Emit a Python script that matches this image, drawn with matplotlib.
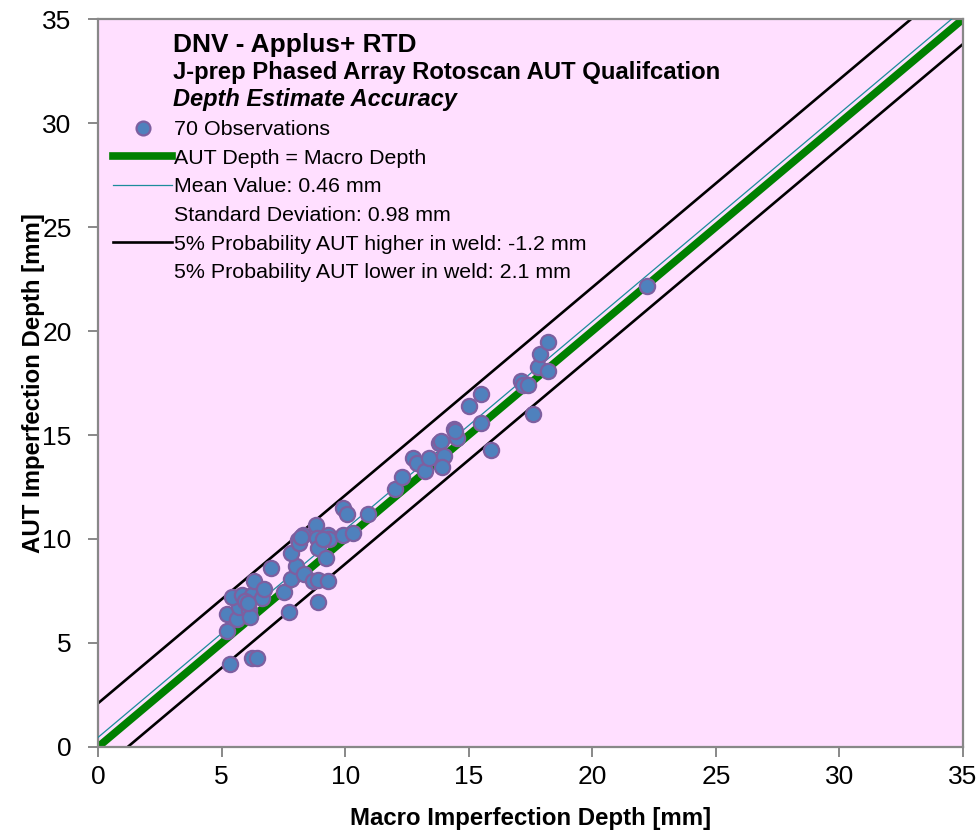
import matplotlib.pyplot as plt
from matplotlib.lines import Line2D

plt.rcParams['font.family'] = ['Liberation Sans', 'DejaVu Sans']

# observations: macro depth vs AUT depth [mm]
macro = [5.34, 6.23, 6.43, 5.22, 5.22, 5.63, 5.71, 6.11, 6.15, 5.42,
         5.83, 6.23, 6.64, 6.31, 6.72, 7.00, 7.53, 7.73, 7.81, 8.01,
         8.34, 8.70, 8.90, 9.31, 8.90, 7.81, 8.09, 8.13, 8.30, 8.82,
         8.86, 8.90, 9.23, 9.31, 9.35, 9.12, 9.91, 10.08, 9.91, 10.32,
         10.93, 12.02, 12.30, 12.75, 12.91, 13.23, 13.40, 13.80, 13.86, 14.00,
         13.92, 14.41, 14.53, 15.01, 15.50, 15.50, 15.90, 17.12, 17.20, 17.40,
         17.60, 17.81, 18.21, 17.89, 18.21, 22.22, 5.95, 6.05, 8.20, 14.45]
aut = [3.99, 4.28, 4.28, 5.58, 6.39, 6.15, 6.73, 6.59, 6.25, 7.21,
       7.31, 7.31, 7.16, 7.98, 7.60, 8.61, 7.45, 6.49, 8.08, 8.70,
       8.32, 7.98, 8.03, 7.98, 6.97, 9.33, 9.95, 9.81, 10.19, 10.67,
       10.05, 9.57, 9.09, 10.19, 10.00, 10.00, 11.49, 11.20, 10.19, 10.29,
       11.20, 12.40, 12.98, 13.89, 13.65, 13.27, 13.89, 14.62, 14.72, 13.99,
       13.46, 15.29, 14.86, 16.39, 16.97, 15.58, 14.28, 17.60, 17.40, 17.40,
       16.01, 18.27, 18.08, 18.89, 19.47, 22.16, 7.00, 6.90, 10.10, 15.20]

mean_offset = 0.46
std_dev = 0.98
higher_5 = -1.2
lower_5 = 2.1

line_x = [0, 35]

fig = plt.figure(figsize=(9.79, 8.31), dpi=100)
ax = fig.add_axes([0.1001, 0.1011, 0.8836, 0.876])
ax.set_facecolor('#FFDFFF')

ax.plot(line_x, [v + lower_5 for v in line_x], color='black', lw=1.9, zorder=2)
ax.plot(line_x, [v + higher_5 for v in line_x], color='black', lw=1.9, zorder=2)
ax.plot(line_x, line_x, color='#008000', lw=5.5, zorder=2, solid_capstyle='butt')
ax.plot(line_x, [v + mean_offset for v in line_x], color='#1C8C9C', lw=0.9, zorder=3)
ax.scatter(macro, aut, s=120, facecolor='#4F81BD', edgecolor='#7D5FA0', linewidth=1.6, zorder=4)

ax.set_xlim(0, 35)
ax.set_ylim(0, 35)
ax.set_xticks(range(0, 36, 5))
ax.set_yticks(range(0, 36, 5))
ax.tick_params(labelsize=19, color='#888888', length=7, width=1.4, direction='out')
ax.tick_params(axis='x', pad=6)
ax.tick_params(axis='y', pad=12)
for s in ax.spines.values():
    s.set_color('#888888')
    s.set_linewidth(1.6)

ax.set_xlabel('Macro Imperfection Depth [mm]', fontsize=17.3, fontweight='bold', labelpad=13)
ax.set_ylabel('AUT Imperfection Depth [mm]', fontsize=17.3, fontweight='bold', labelpad=-2)

# header lines
ax.text(0.087, 0.965, 'DNV - Applus+ RTD', transform=ax.transAxes, fontsize=18.9,
        fontweight='bold', va='center')
ax.text(0.087, 0.927, 'J-prep Phased Array Rotoscan AUT Qualifcation', transform=ax.transAxes,
        fontsize=17.2, fontweight='bold', va='center')
ax.text(0.087, 0.889, 'Depth Estimate Accuracy', transform=ax.transAxes, fontsize=17,
        fontweight='bold', style='italic', va='center')

handles = [
    Line2D([], [], ls='none', marker='o', markersize=10, markerfacecolor='#4F81BD',
           markeredgecolor='#7D5FA0', markeredgewidth=1.6),
    Line2D([], [], color='#008000', lw=5.5),
    Line2D([], [], color='#1C8C9C', lw=0.9),
    Line2D([], [], color='none'),
    Line2D([], [], color='black', lw=1.9),
    Line2D([], [], color='none'),
]
labels = ['70 Observations', 'AUT Depth = Macro Depth',
          f'Mean Value: {mean_offset} mm', f'Standard Deviation: {std_dev} mm',
          f'5% Probability AUT higher in weld: {higher_5} mm',
          f'5% Probability AUT lower in weld: {lower_5} mm']
ax.legend(handles, labels, loc='upper left', bbox_to_anchor=(0.0124, 0.867), frameon=False,
          fontsize=15.4, handlelength=2.76, handletextpad=0.1, labelspacing=0.45,
          borderaxespad=0, borderpad=0.2)

fig.savefig('out.png', dpi=100)
